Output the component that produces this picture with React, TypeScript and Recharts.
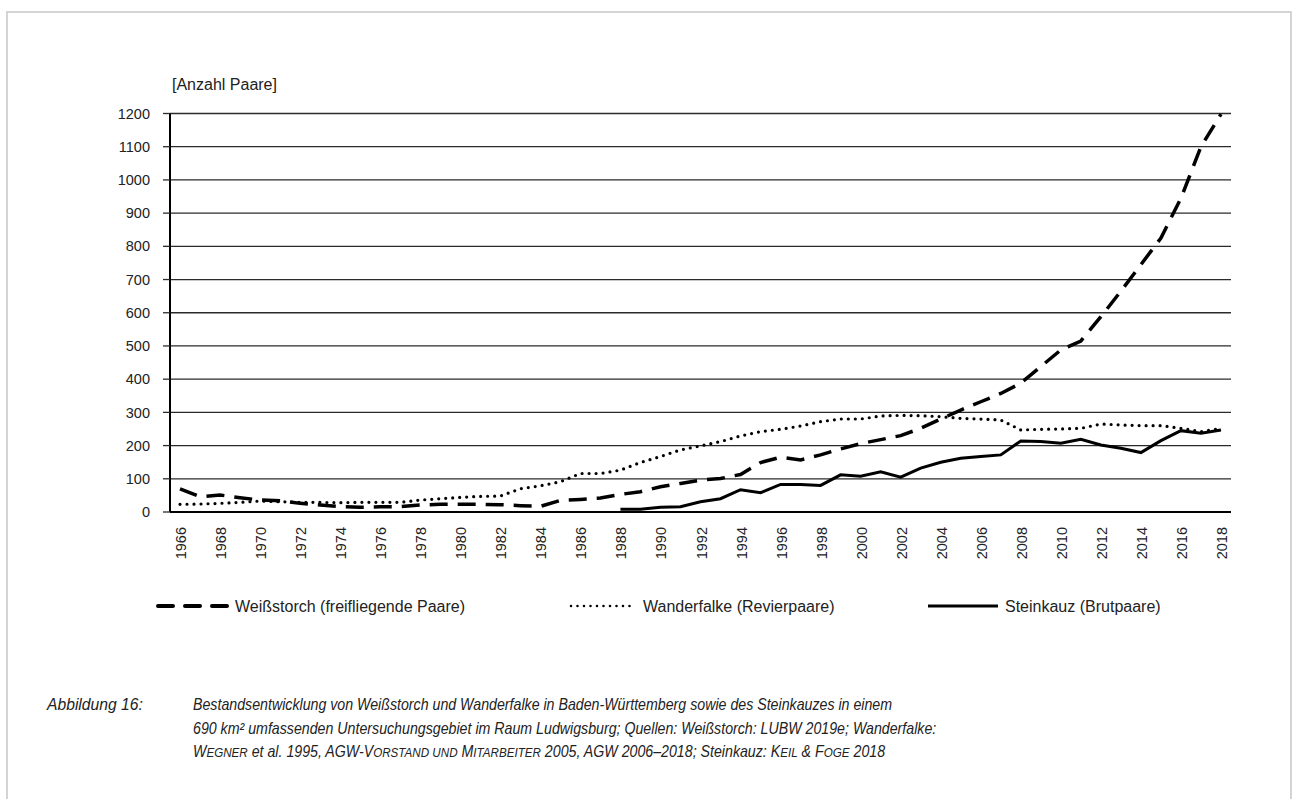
import React from 'react';
import { LineChart, Line, XAxis, YAxis, CartesianGrid } from 'recharts';

const years = [
  1966, 1967, 1968, 1969, 1970, 1971, 1972, 1973, 1974, 1975, 1976, 1977, 1978, 1979,
  1980, 1981, 1982, 1983, 1984, 1985, 1986, 1987, 1988, 1989, 1990, 1991, 1992, 1993,
  1994, 1995, 1996, 1997, 1998, 1999, 2000, 2001, 2002, 2003, 2004, 2005, 2006, 2007,
  2008, 2009, 2010, 2011, 2012, 2013, 2014, 2015, 2016, 2017, 2018,
];

const weissstorch = [
  70, 46, 51, 43, 36, 34, 26, 21, 16, 14, 16, 16, 21, 23,
  23, 23, 22, 19, 17, 35, 38, 42, 53, 61, 76, 86, 96, 101,
  113, 149, 165, 157, 172, 190, 206, 218, 230, 252, 280, 307, 332, 357,
  388, 438, 488, 515, 588, 665, 745, 825, 945, 1100, 1198,
];

const wanderfalke = [
  23, 24, 26, 29, 33, 31, 29, 29, 28, 29, 29, 29, 36, 40,
  44, 47, 48, 70, 79, 91, 116, 116, 126, 149, 167, 187, 199, 212,
  229, 242, 249, 259, 272, 280, 280, 289, 291, 290, 287, 282, 280, 277,
  247, 249, 250, 252, 265, 262, 260, 260, 252, 242, 252,
];

const steinkauz = [
  null, null, null, null, null, null, null, null, null, null, null, null, null, null,
  null, null, null, null, null, null, null, null, 8, 8, 14, 16, 31, 40,
  67, 58, 83, 83, 80, 112, 108, 121, 105, 132, 150, 162, 167, 172,
  214, 212, 207, 219, 202, 192, 179, 215, 245, 237, 247,
];

const seriesNames = [
  'Weißstorch (freifliegende Paare)',
  'Wanderfalke (Revierpaare)',
  'Steinkauz (Brutpaare)',
];

const yTicks = [0, 100, 200, 300, 400, 500, 600, 700, 800, 900, 1000, 1100, 1200];
const xLabelYears = [
  1966, 1968, 1970, 1972, 1974, 1976, 1978, 1980, 1982, 1984, 1986, 1988, 1990, 1992,
  1994, 1996, 1998, 2000, 2002, 2004, 2006, 2008, 2010, 2012, 2014, 2016, 2018,
];
const yAxisTitle = '[Anzahl Paare]';

const xBounds = [...years.map((y) => y - 0.5), years[years.length - 1] + 0.5];
const xDomain = [xBounds[0], xBounds[xBounds.length - 1]];

const data = years.map((year, i) => ({
  year,
  ws: weissstorch[i],
  wf: wanderfalke[i],
  sk: steinkauz[i],
}));

const FONT = '"Liberation Sans", Arial, Helvetica, sans-serif';
const CAPFONT = '"Liberation Sans", Arial, sans-serif';
const TXT = '#222';

const YearTick = (props: any) => {
  const { x, y, payload } = props;
  return (
    <text
      x={x + 1}
      y={y}
      transform={`rotate(-90, ${x + 1}, ${y})`}
      textAnchor="end"
      dominantBaseline="central"
      fontFamily={FONT}
      fontSize={14.5}
      fill={TXT}
    >
      {payload.value}
    </text>
  );
};

const styles = [
  { dash: '18 10', width: 3.5 },
  { dash: '0 7', width: 3.2 },
  { dash: undefined, width: 3 },
];

const legendPos = [
  { x1: 158, x2: 227, tx: 235 },
  { x1: 571, x2: 636, tx: 643 },
  { x1: 928, x2: 998, tx: 1005 },
];

const SC = ({ children }: { children: React.ReactNode }) => (
  <span style={{ textTransform: 'uppercase', fontSize: '0.82em' }}>{children}</span>
);

const capStyle: React.CSSProperties = {
  position: 'absolute',
  top: 693,
  fontFamily: CAPFONT,
  fontStyle: 'italic',
  fontSize: 16.5,
  lineHeight: '23.5px',
  color: TXT,
  whiteSpace: 'nowrap',
  transformOrigin: '0 0',
};

export default function App() {
  return (
    <div
      style={{
        position: 'absolute',
        left: 0,
        top: 0,
        width: 1292,
        height: 799,
        background: '#fff',
        overflow: 'hidden',
      }}
    >
      <div
        style={{
          position: 'absolute',
          left: 6,
          top: 11,
          width: 1286,
          height: 820,
          border: '2px solid #d4d4d4',
          boxSizing: 'border-box',
        }}
      />
      <div
        style={{
          position: 'absolute',
          left: 172,
          top: 76,
          fontFamily: FONT,
          fontSize: 16,
          color: TXT,
          whiteSpace: 'nowrap',
        }}
      >
        {yAxisTitle}
      </div>
      <div style={{ position: 'absolute', left: 0, top: 0 }}>
        <LineChart
          width={1292}
          height={600}
          data={data}
          margin={{ top: 113.5, right: 61, bottom: 0, left: 0 }}
        >
          <CartesianGrid
            xAxisId="a"
            vertical={false}
            stroke="#2b2b2b"
            strokeWidth={1.3}
          />
          <XAxis
            xAxisId="a"
            dataKey="year"
            type="number"
            domain={xDomain}
            ticks={xBounds}
            interval={0}
            allowDataOverflow
            height={10}
            tick={false}
            tickSize={7}
            axisLine={{ stroke: '#000', strokeWidth: 2 }}
            tickLine={{ stroke: '#000', strokeWidth: 1.5 }}
          />
          <XAxis
            xAxisId="b"
            dataKey="year"
            type="number"
            domain={xDomain}
            ticks={xLabelYears}
            interval={0}
            allowDataOverflow
            height={78}
            axisLine={false}
            tickLine={false}
            tickSize={3}
            tick={<YearTick />}
          />
          <YAxis
            type="number"
            domain={[0, 1200]}
            ticks={yTicks}
            interval={0}
            width={170}
            tickSize={7}
            tickMargin={13}
            axisLine={{ stroke: '#000', strokeWidth: 2 }}
            tickLine={{ stroke: '#2b2b2b', strokeWidth: 1.3 }}
            tick={{ fontFamily: FONT, fontSize: 14.5, fill: TXT }}
          />
          <Line
            xAxisId="a"
            dataKey="sk"
            name={seriesNames[2]}
            stroke="#000"
            strokeWidth={styles[2].width}
            dot={false}
            isAnimationActive={false}
            type="linear"
          />
          <Line
            xAxisId="a"
            dataKey="wf"
            name={seriesNames[1]}
            stroke="#000"
            strokeWidth={styles[1].width}
            strokeDasharray={styles[1].dash}
            strokeLinecap="round"
            dot={false}
            isAnimationActive={false}
            type="linear"
          />
          <Line
            xAxisId="a"
            dataKey="ws"
            name={seriesNames[0]}
            stroke="#000"
            strokeWidth={styles[0].width}
            strokeDasharray={styles[0].dash}
            dot={false}
            isAnimationActive={false}
            type="linear"
          />
        </LineChart>
      </div>
      <svg
        width={1292}
        height={30}
        style={{ position: 'absolute', left: 0, top: 591 }}
      >
        {seriesNames.map((name, i) => (
          <g key={name}>
            <line
              x1={legendPos[i].x1}
              x2={legendPos[i].x2}
              y1={15}
              y2={15}
              stroke="#000"
              strokeWidth={i === 0 ? 4 : i === 1 ? 2.6 : 3.2}
              strokeDasharray={i === 0 ? '15 12' : i === 1 ? '0 6.5' : undefined}
              strokeLinecap={i === 2 ? 'butt' : 'round'}
            />
            <text
              x={legendPos[i].tx}
              y={15}
              dominantBaseline="central"
              fontFamily={FONT}
              fontSize={16}
              fill={TXT}
            >
              {name}
            </text>
          </g>
        ))}
      </svg>
      <div style={{ ...capStyle, left: 47, transform: 'scaleX(0.95)' }}>Abbildung 16:</div>
      <div style={{ ...capStyle, left: 193, transform: 'scaleX(0.86)' }}>
        <div>
          Bestandsentwicklung von Weißstorch und Wanderfalke in Baden-Württemberg sowie des Steinkauzes in einem
        </div>
        <div>
          690 km² umfassenden Untersuchungsgebiet im Raum Ludwigsburg; Quellen: Weißstorch: LUBW 2019e; Wanderfalke:
        </div>
        <div>
          W<SC>egner</SC> et al. 1995, AGW-V<SC>orstand und</SC> M<SC>itarbeiter</SC> 2005, AGW 2006–2018; Steinkauz: K<SC>eil</SC> &amp; F<SC>oge</SC> 2018
        </div>
      </div>
    </div>
  );
}
